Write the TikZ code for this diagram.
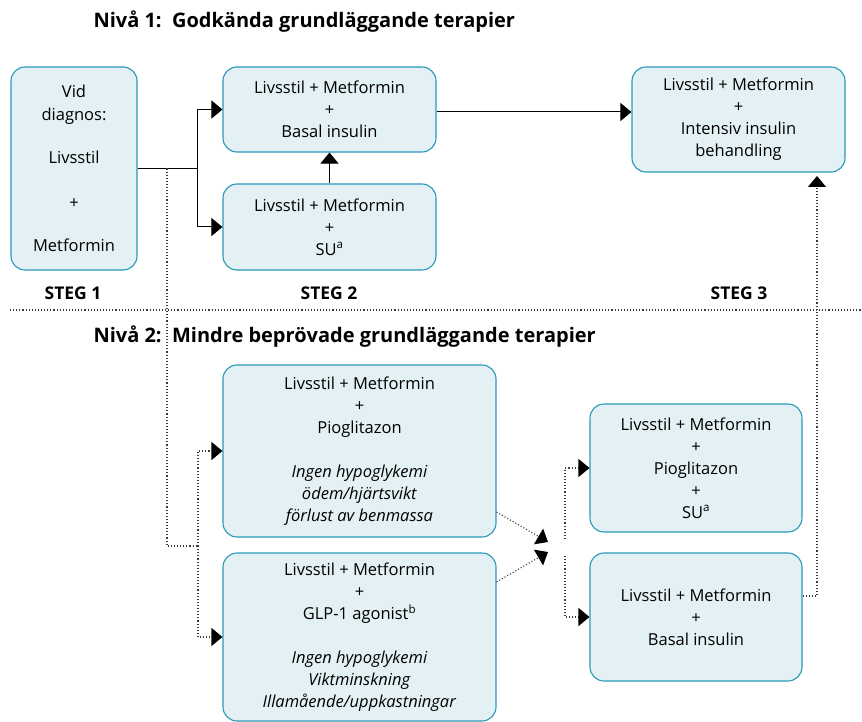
\documentclass[tikz,border=0pt]{standalone}
\usepackage{fontspec}
\setmainfont{Open Sans}
\usetikzlibrary{arrows.meta}
\definecolor{boxfill}{RGB}{227,240,244}
\definecolor{boxline}{RGB}{42,152,184}
\definecolor{dotgray}{RGB}{60,60,60}
\tikzset{
  box/.style={draw=boxline, fill=boxfill, rounded corners=14pt, line width=1.1pt,
    align=center, inner sep=0pt, font=\fontsize{16.5}{22}\selectfont},
  link/.style={line width=1pt, -{Triangle[length=11pt,width=18pt]}},
  dots/.style={draw=dotgray, line width=1.1pt, dash pattern=on 1.1pt off 2pt},
  dlink/.style={dots, -{Triangle[length=11pt,width=18pt,color=black]}},
  head/.style={anchor=base west, font=\fontsize{20}{22}\selectfont\bfseries},
  steg/.style={anchor=base, font=\fontsize{17.5}{18}\selectfont\bfseries}
}
\begin{document}
\begin{tikzpicture}[x=1pt,y=-1pt]
\useasboundingbox (0,0) rectangle (862,722);
% headings
\node[head] (niva1) at (90,28) {Nivå 1:\ \ Godkända grundläggande terapier};
\node[head] (niva2) at (90,342) {Nivå 2:\ \ Mindre beprövade grundläggande terapier};
\node[steg] (steg1) at (73,299) {STEG 1};
\node[steg] (steg2) at (329,299) {STEG 2};
\node[steg] (steg3) at (739,299) {STEG 3};
\draw[dots] (10,310) -- (862,310);
% level 1
\node[box, minimum width=126pt, minimum height=203pt] (diag) at (74,168.5)
  {Vid\\[1pt]diagnos:\\[21pt]Livsstil\\[23pt]+\\[21pt]Metformin};
\node[box, minimum width=213pt, minimum height=85pt] (basal) at (329.5,109.5)
  {Livsstil + Metformin\\+\\Basal insulin};
\node[box, minimum width=213pt, minimum height=86pt] (su) at (329.5,227)
  {Livsstil + Metformin\\+\\SU\textsuperscript{a}};
\node[box, minimum width=213pt, minimum height=105pt] (intens) at (738.5,119.5)
  {Livsstil + Metformin\\+\\Intensiv insulin\\behandling};
% level 2
\node[box, minimum width=273pt, minimum height=172pt] (pio) at (359.5,451)
  {Livsstil + Metformin\\+\\Pioglitazon\\[22pt]\textit{Ingen hypoglykemi}\\
   \textit{ödem/hjärtsvikt}\\\textit{förlust av benmassa}};
\node[box, minimum width=273pt, minimum height=168pt] (glp) at (359.5,637)
  {Livsstil + Metformin\\+\\GLP-1 agonist\textsuperscript{b}\\[22pt]\textit{Ingen hypoglykemi}\\
   \textit{Viktminskning}\\\textit{Illamående/uppkastningar}};
\node[box, minimum width=212pt, minimum height=128pt] (piosu) at (696,468)
  {Livsstil + Metformin\\+\\Pioglitazon\\+\\SU\textsuperscript{a}};
\node[box, minimum width=212pt, minimum height=128pt] (basal2) at (696,617)
  {Livsstil + Metformin\\+\\Basal insulin};
% solid connectors
\coordinate (j1) at (197,168.5);
\draw[line width=1pt] (diag.east) -- (j1);
\draw[link] (j1) |- (basal.west);
\draw[link] (j1) |- (su.west);
\draw[link] (su.north) -- (basal.south);
\draw[link] ([yshift=-2.5pt]basal.east) -- ([yshift=-2.5pt]basal.east -| intens.west);
% dotted connectors
\coordinate (d1) at (167,168.5);
\coordinate (d3) at (198,546);
\draw[dots] (d1) |- (d3);
\draw[dlink] (d3) |- (pio.west);
\draw[dlink] (d3) |- (glp.west);
\coordinate (m1) at (548,542);
\coordinate (m2) at (548,552);
\draw[dlink] ([yshift=-61pt]pio.east) -- (m1);
\draw[dlink] ([yshift=55pt]glp.east) -- (m2);
\coordinate (k1) at (565,539);
\coordinate (k2) at (565,556);
\draw[dlink] (k1) |- (piosu.west);
\draw[dlink] (k2) |- (basal2.west);
\coordinate (r2) at (817,176);
\draw[dlink] ([yshift=21pt]basal2.east) -| (r2);
\end{tikzpicture}
\end{document}
